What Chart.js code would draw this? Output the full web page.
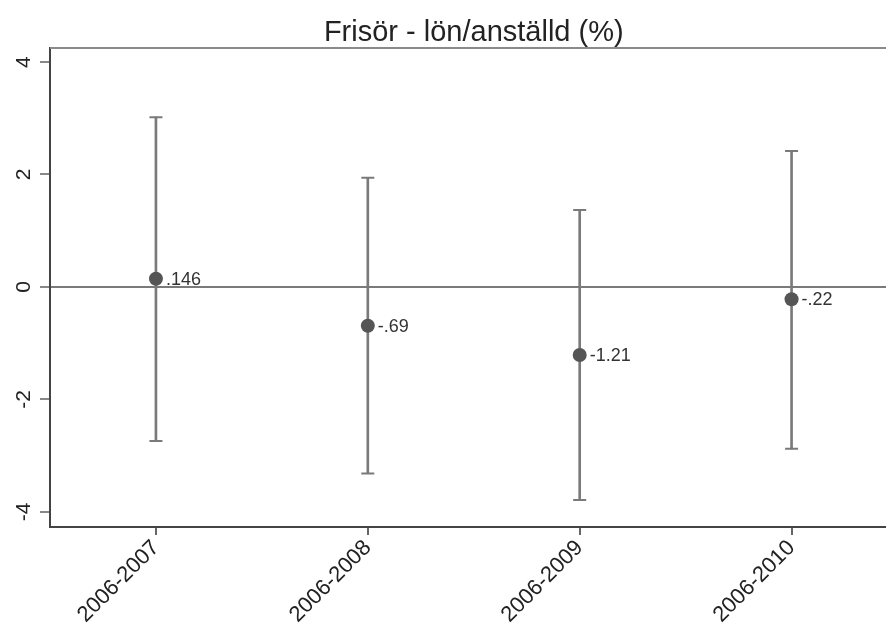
<!DOCTYPE html>
<html>
<head>
<meta charset="utf-8">
<script src="https://cdn.jsdelivr.net/npm/chart.js@4"></script>
<style>
  html, body { margin: 0; padding: 0; background: #fff; overflow: hidden; }
  #wrap { width: 906px; height: 628px; }
</style>
</head>
<body>
<div id="wrap"><canvas id="chart" width="906" height="628"></canvas></div>
<script>
// Frisör - lön/anställd (%) — estimates with confidence intervals
const periods = ["2006-2007", "2006-2008", "2006-2009", "2006-2010"];
const estimates = [0.146, -0.69, -1.21, -0.22];
const lower = [-2.74, -3.32, -3.79, -2.88];
const upper = [3.02, 1.94, 1.37, 2.42];
const pointLabels = [".146", "-.69", "-1.21", "-.22"];
const yTicks = [-4, -2, 0, 2, 4];

const FONT = '"Liberation Sans", Arial, sans-serif';
const whiskerColor = "#7a7a7a";

// title centred over plot, rotated y labels, value labels, top frame line
const extras = {
    id: "extras",
    afterDraw(chart) {
        const ctx = chart.ctx;
        const area = chart.chartArea;
        const y = chart.scales.y;

        ctx.save();
        // top frame
        ctx.strokeStyle = "#8a8a8a";
        ctx.lineWidth = 2;
        ctx.beginPath();
        ctx.moveTo(area.left, area.top);
        ctx.lineTo(area.right, area.top);
        ctx.stroke();

        // title
        ctx.fillStyle = "#222";
        ctx.font = "29px " + FONT;
        ctx.textAlign = "center";
        ctx.textBaseline = "alphabetic";
        ctx.fillText("Frisör - lön/anställd (%)", (area.left + area.right) / 2, 41);

        // y tick labels, rotated like Stata
        ctx.font = "21px " + FONT;
        ctx.textBaseline = "middle";
        yTicks.forEach(v => {
            ctx.save();
            ctx.translate(24, y.getPixelForValue(v));
            ctx.rotate(-Math.PI / 2);
            ctx.fillText(String(v), 0, 0);
            ctx.restore();
        });

        // value labels next to markers
        const meta = chart.getDatasetMeta(0);
        ctx.font = "18px " + FONT;
        ctx.fillStyle = "#333";
        ctx.textAlign = "left";
        meta.data.forEach((pt, i) => {
            ctx.fillText(pointLabels[i], pt.x + 10, pt.y + 1);
        });
        ctx.restore();
    }
};

new Chart(document.getElementById("chart"), {
    type: "bar",
    data: {
        labels: periods,
        datasets: [
            {
                type: "line",
                data: estimates,
                showLine: false,
                pointRadius: 7,
                pointBackgroundColor: "#555",
                pointBorderWidth: 0
            },
            {
                type: "line",
                data: upper,
                showLine: false,
                pointStyle: "line",
                pointRadius: 6.5,
                pointBorderColor: whiskerColor,
                pointBorderWidth: 2
            },
            {
                type: "line",
                data: lower,
                showLine: false,
                pointStyle: "line",
                pointRadius: 6.5,
                pointBorderColor: whiskerColor,
                pointBorderWidth: 2
            },
            {
                type: "bar",
                data: periods.map((_, i) => [lower[i], upper[i]]),
                backgroundColor: whiskerColor,
                barThickness: 2
            }
        ]
    },
    options: {
        responsive: false,
        animation: false,
        layout: { padding: { top: 48, left: 0, right: 0, bottom: 0 } },
        plugins: { legend: { display: false }, tooltip: { enabled: false }, title: { display: false } },
        scales: {
            x: {
                offset: true,
                afterFit: s => { s.height = 101; },
                border: { color: "#444", width: 2 },
                grid: { offset: false, drawOnChartArea: false, drawTicks: true, tickLength: 8, tickColor: "#666", lineWidth: 2 },
                ticks: {
                    color: "#222",
                    font: { family: FONT, size: 22 },
                    minRotation: 45,
                    maxRotation: 45,
                    padding: 0
                }
            },
            y: {
                min: -4.27,
                max: 4.25,
                afterFit: s => { s.width = 50; },
                border: { color: "#444", width: 2 },
                grid: {
                    drawTicks: true,
                    tickLength: 10,
                    tickColor: "#888",
                    lineWidth: 2,
                    color: c => (c.tick && c.tick.value === 0 ? "#7a7a7a" : "transparent")
                },
                ticks: {
                    stepSize: 2,
                    includeBounds: false,
                    color: "transparent",
                    font: { family: FONT, size: 12 }
                }
            }
        }
    },
    plugins: [extras]
});
</script>
</body>
</html>
